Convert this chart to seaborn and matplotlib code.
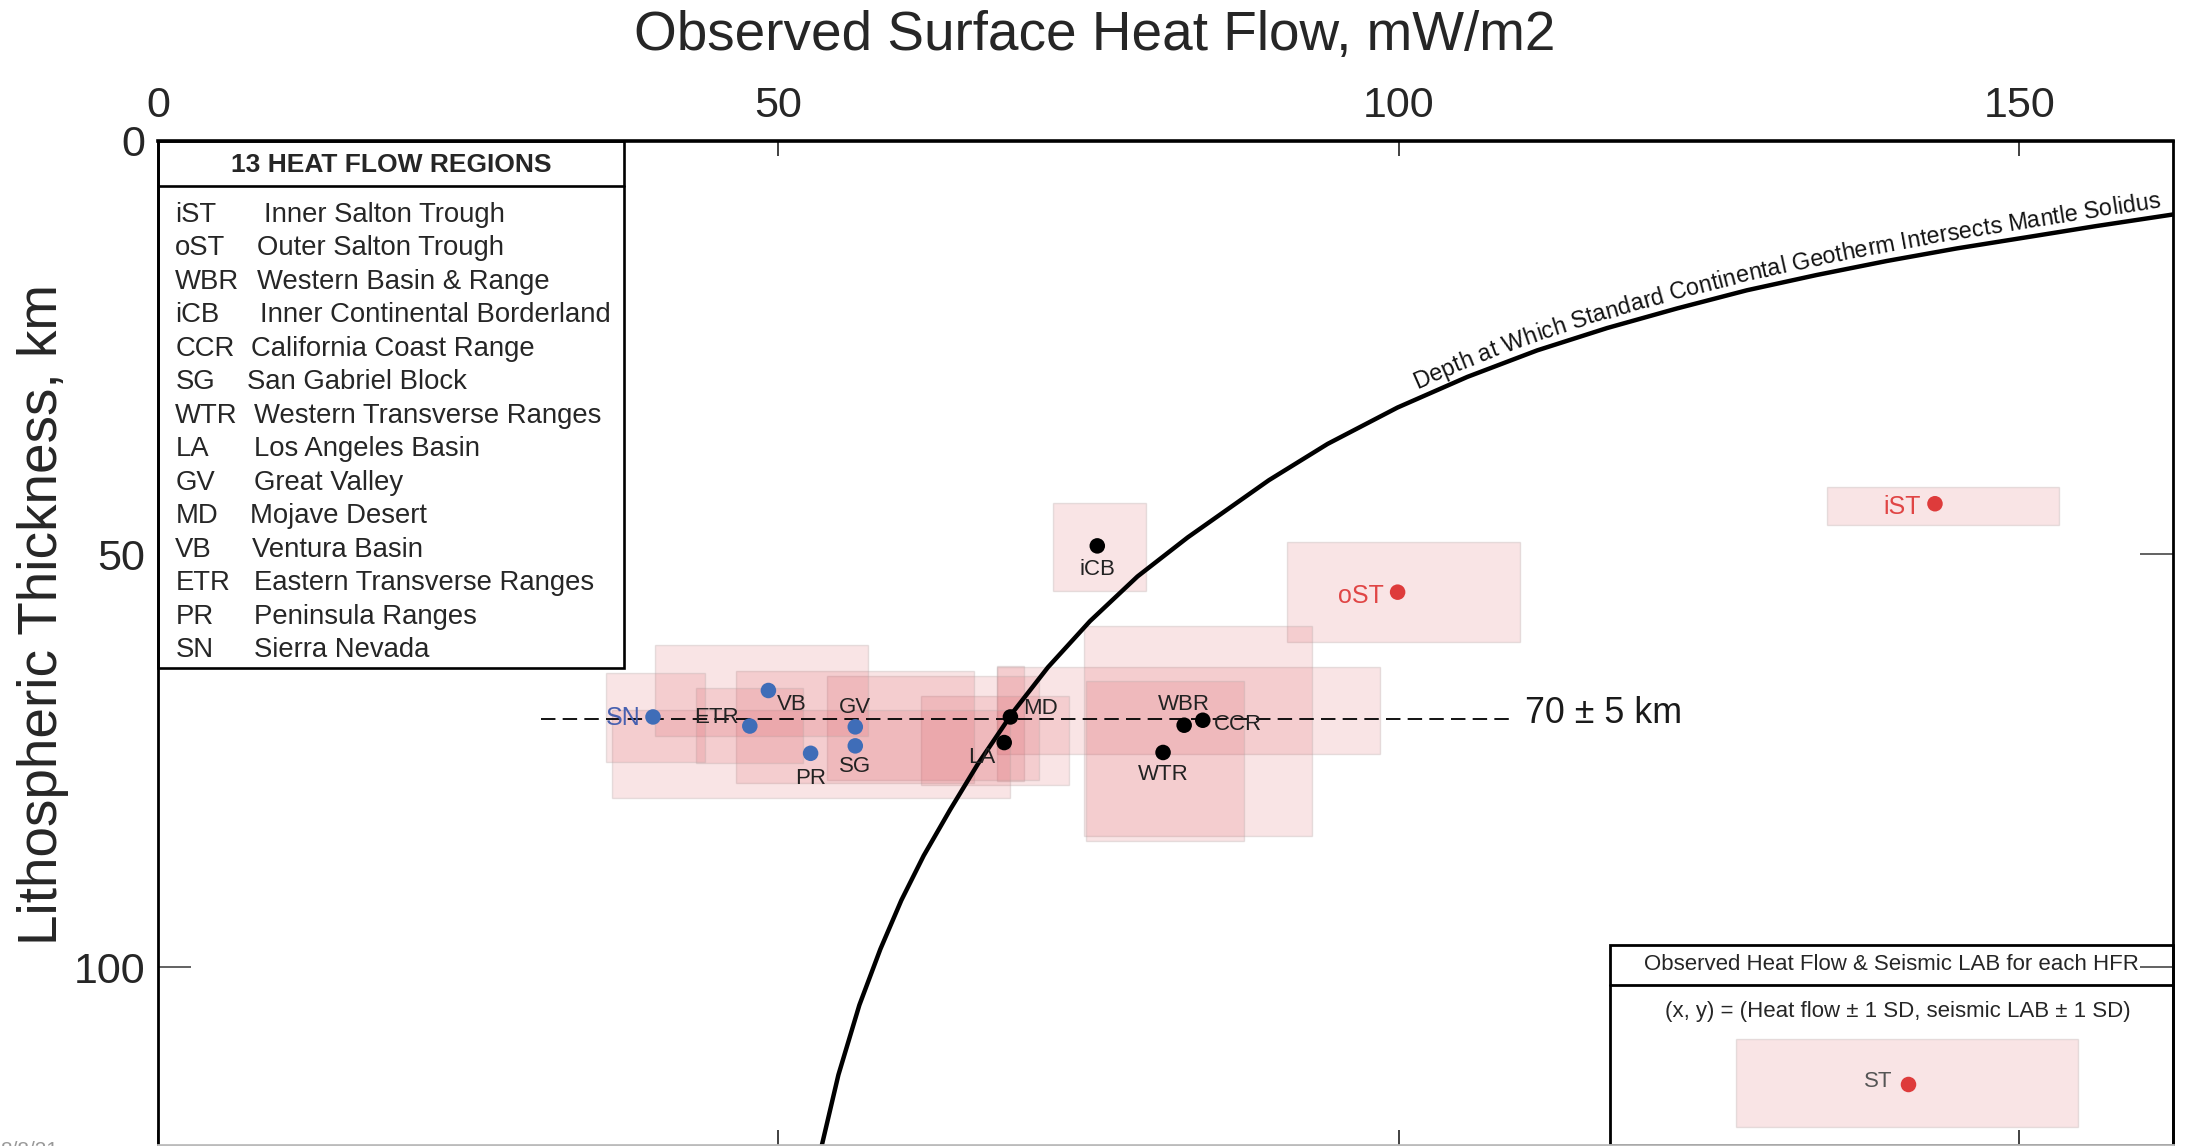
import numpy as np
import pandas as pd
import matplotlib
matplotlib.use("Agg")
import matplotlib.pyplot as plt
import seaborn as sns
from matplotlib.patches import Rectangle
from matplotlib import font_manager as fm

# ---------------- data ----------------
# Heat-flow regions: mean surface heat flow (mW/m2) and seismic LAB depth (km)
regions   = ["iST", "oST", "iCB", "WBR", "CCR", "WTR", "MD", "LA", "SG", "GV", "PR", "VB", "ETR", "SN"]
heat_flow = [143.2, 99.9, 75.7, 82.7, 84.2, 81.0, 68.7, 68.2, 56.2, 56.2, 52.6, 49.2, 47.7, 39.9]
lab_depth = [43.9, 54.6, 49.0, 70.7, 70.1, 74.0, 69.7, 72.8, 73.2, 70.9, 74.1, 66.5, 70.8, 69.7]
province  = ["trough", "trough", "central", "central", "central", "central", "central", "central",
             "western", "western", "western", "western", "western", "western"]

# +/- 1 SD ranges of heat flow and LAB depth for each region
hf_low   = [134.5, 91.0, 72.1, 67.6, 74.6, 74.8, 67.6, 61.5, 53.9, 46.6, 36.6, 40.1, 43.4, 36.1]
hf_high  = [153.2, 109.8, 79.6, 98.5, 93.0, 87.5, 69.8, 73.4, 71.0, 65.8, 68.7, 57.2, 52.0, 44.1]
lab_low  = [41.9, 48.5, 43.8, 63.6, 58.7, 65.4, 63.5, 67.2, 64.8, 64.2, 68.8, 61.0, 66.2, 64.4]
lab_high = [46.5, 60.6, 54.4, 74.2, 84.1, 84.7, 77.5, 77.9, 77.3, 77.7, 79.5, 72.0, 75.3, 75.1]

# Region key
key_abbrev = ["iST", "oST", "WBR", "iCB", "CCR", "SG", "WTR", "LA", "GV", "MD", "VB", "ETR", "PR", "SN"]
key_names  = ["Inner Salton Trough", "Outer Salton Trough", "Western Basin & Range",
              "Inner Continental Borderland", "California Coast Range", "San Gabriel Block",
              "Western Transverse Ranges", "Los Angeles Basin", "Great Valley", "Mojave Desert",
              "Ventura Basin", "Eastern Transverse Ranges", "Peninsula Ranges", "Sierra Nevada"]

# Depth at which the standard continental geotherm meets the mantle solidus
solidus_hf    = [53.49, 54.84, 56.53, 58.22, 59.91, 61.71, 63.85, 66.10, 68.92, 71.73, 75.11, 78.94,
                 82.99, 89.53, 94.26, 99.89, 105.52, 111.15, 116.78, 122.41, 128.04, 133.67, 139.30,
                 144.93, 150.56, 156.19, 162.50]
solidus_depth = [121.62, 113.01, 104.56, 97.80, 91.89, 86.49, 80.91, 75.34, 69.09, 63.68, 58.11, 52.70,
                 47.97, 41.05, 36.66, 32.26, 28.55, 25.34, 22.64, 20.27, 18.07, 16.22, 14.53, 13.01,
                 11.66, 10.30, 8.87]

# Typical LAB depth and its spread
lab_ref, lab_ref_sd = 70, 5
lab_ref_hf = [30.9, 109.4]

x_ticks = [0, 50, 100, 150]
y_ticks = [0, 50, 100]

# ---------------- style ----------------
sns.set_style("white")


def has_font(name):
    try:
        fm.findfont(fm.FontProperties(family=name), fallback_to_default=False)
        return True
    except Exception:
        return False


NARROW = ["Liberation Sans Narrow", "DejaVu Sans"] if has_font("Liberation Sans Narrow") \
    else ["Liberation Sans", "DejaVu Sans"]
NSCALE = 1.0 if NARROW[0] == "Liberation Sans Narrow" else 0.86
ARIAL = ["Liberation Sans", "DejaVu Sans"]
plt.rcParams["font.family"] = ARIAL

fig = plt.figure(figsize=(21.9, 11.46), dpi=100)
ax = fig.add_axes([0.07207, 0.0005, 0.92028, 0.8765])
ax.set_xlim(0, 162.4)
ax.set_ylim(121.55, 0)

df = pd.DataFrame({"region": regions, "heat_flow": heat_flow, "lab": lab_depth,
                   "province": province, "hf_low": hf_low, "hf_high": hf_high,
                   "lab_low": lab_low, "lab_high": lab_high})

box_face = (215 / 255, 70 / 255, 80 / 255, 0.145)
box_edge = (0.70, 0.66, 0.66, 0.30)
for r in df.itertuples():
    ax.add_patch(Rectangle((r.hf_low, r.lab_low), r.hf_high - r.hf_low, r.lab_high - r.lab_low,
                           facecolor=box_face, edgecolor=box_edge, lw=1.0, zorder=1))

# Reference LAB depth
ax.plot(lab_ref_hf, [lab_ref, lab_ref], color="black", lw=1.3, ls=(0, (8, 4)), zorder=2)
ax.annotate(f"{lab_ref} \u00b1 {lab_ref_sd} km", (lab_ref_hf[1], lab_ref), xytext=(7, 4),
            textcoords="offset points", ha="left", va="center",
            fontsize=30 * NSCALE, family=NARROW, color="#1a1a1a")

# Solidus curve
sns.lineplot(x=solidus_hf, y=solidus_depth, sort=False, color="black", lw=3.2, ax=ax, zorder=3)

# Region means
palette = {"trough": "#DE3B3B", "central": "#000000", "western": "#3F6DB8"}
sns.scatterplot(data=df, x="heat_flow", y="lab", hue="province", palette=palette, s=125,
                linewidth=0, legend=False, ax=ax, zorder=5)

label_style = {
    "iST": (-10, -2, "right", "#E04545", 18), "oST": (-10, -3, "right", "#E04545", 18),
    "iCB": (0, -17, "center", "#222222", 16), "WBR": (0, 15, "center", "#222222", 16),
    "CCR": (8, -3, "left", "#222222", 16), "WTR": (0, -16, "center", "#222222", 16),
    "MD": (9, 6, "left", "#222222", 16), "LA": (-6, -11, "right", "#222222", 16),
    "SG": (0, -15, "center", "#222222", 16), "GV": (0, 14, "center", "#222222", 16),
    "PR": (0, -18, "center", "#222222", 16), "VB": (6, -10, "left", "#222222", 16),
    "ETR": (-8, 6, "right", "#222222", 16), "SN": (-9, -1, "right", "#4760B0", 18),
}
for r in df.itertuples():
    dx, dy, ha, col, fs = label_style[r.region]
    ax.annotate(r.region, (r.heat_flow, r.lab), xytext=(dx, dy), textcoords="offset points",
                ha=ha, va="center", fontsize=fs, color=col, zorder=6)

# ---------------- axes ----------------
ax.set_xticks(x_ticks)
ax.set_yticks(y_ticks)
ax.set_xlabel("")
ax.set_ylabel("")
ax.xaxis.set_ticks_position("both")
ax.yaxis.set_ticks_position("both")
ax.tick_params(axis="x", which="both", direction="in", length=11, width=1.3, color="#333333",
               labeltop=True, labelbottom=False, pad=11, labelsize=36 * NSCALE)
ax.tick_params(axis="y", which="both", direction="in", length=24, width=1.3, color="#555555",
               labelleft=True, labelright=False, pad=9, labelsize=36 * NSCALE)
for lab in ax.get_xticklabels() + ax.get_yticklabels():
    lab.set_family(NARROW)
# the left tick at 50 km sits under the region key
ax.yaxis.get_major_ticks()[1].tick1line.set_visible(False)
ax.xaxis.set_zorder(12)
ax.yaxis.set_zorder(12)
for name, sp in ax.spines.items():
    sp.set_visible(True)
    sp.set_color("black")
    sp.set_linewidth(2.0)
    sp.set_zorder(13)
ax.spines["top"].set_linewidth(2.6)
ax.spines["bottom"].set_color("#bbbbbb")

fig.text(0.5, 0.969, "Observed Surface Heat Flow, mW/m2", ha="center", va="center",
         fontsize=46 * NSCALE, family=NARROW)
fig.text(0.0195, 0.464, "Lithospheric Thickness, km", ha="center", va="center", rotation=90,
         fontsize=46 * NSCALE, family=NARROW)
fig.text(0.0, -0.004, "8/8/21", ha="left", va="center", fontsize=15, color="#999999")

# ---------------- region key (top left) ----------------
ta = ax.transAxes
key_w, key_bottom, key_head = 0.2315, 0.475, 0.9556
ax.add_patch(Rectangle((0, key_bottom), key_w, 1 - key_bottom, transform=ta, facecolor="white",
                       edgecolor="black", lw=1.9, zorder=8, clip_on=False))
ax.plot([0, key_w], [key_head, key_head], transform=ta, color="black", lw=1.9, zorder=9)
ax.text(key_w / 2, 0.9764, "13 HEAT FLOW REGIONS", transform=ta, ha="center", va="center",
        fontsize=19, fontweight="bold", zorder=9)
name_x = [188.7, 183.9, 183.9, 186.3, 179.8, 176.7, 182.2, 182.2, 182.2, 179.1, 180.3, 182.2, 181.5, 181.5]
for k, (ab, nm) in enumerate(zip(key_abbrev, key_names)):
    yk = 1 - (53 + 24 * k) / 720
    ax.text(0.0087, yk, ab, transform=ta, ha="left", va="center", fontsize=19.8, zorder=9)
    ax.text((name_x[k] - 113) / 1443, yk, nm, transform=ta, ha="left", va="center",
            fontsize=19.8, zorder=9)

# ---------------- symbol key (bottom right) ----------------
bx0, bhead_top, bhead_bot = 0.7207, 0.2, 0.1597
ax.add_patch(Rectangle((bx0, 0), 1 - bx0, bhead_top, transform=ta, facecolor="white",
                       edgecolor="black", lw=2.0, zorder=8, clip_on=False))
ax.plot([bx0, 1], [bhead_bot, bhead_bot], transform=ta, color="black", lw=2.0, zorder=9)
ax.text(0.8604, 0.1806, "Observed Heat Flow & Seismic LAB for each HFR", transform=ta,
        ha="center", va="center", fontsize=16, zorder=9)
ax.text(0.8635, 0.1333, "(x, y) = (Heat flow \u00b1 1 SD, seismic LAB \u00b1 1 SD)", transform=ta,
        ha="center", va="center", fontsize=16, zorder=9)
ax.add_patch(Rectangle((0.7831, 0.0181), 0.9529 - 0.7831, 0.1056 - 0.0181, transform=ta,
                       facecolor=box_face, edgecolor=box_edge, lw=1.0, zorder=9))
ax.text(0.8538, 0.0639, "ST", transform=ta, ha="center", va="center", fontsize=16,
        color="#555555", zorder=10)
ax.scatter([0.8683], [0.0611], transform=ta, s=125, color=palette["trough"], linewidth=0, zorder=10)


# ---------------- curve label following the solidus line ----------------
def label_along_curve(text, x_start, gap_px, size, family):
    fig.canvas.draw()
    rend = fig.canvas.get_renderer()
    fp = fm.FontProperties(family=family, size=size)
    pts = ax.transData.transform(np.column_stack([solidus_hf, solidus_depth]))
    seg = np.diff(pts, axis=0)
    seglen = np.hypot(seg[:, 0], seg[:, 1])
    s = np.concatenate([[0.0], np.cumsum(seglen)])

    def point_at(sv):
        sv = float(np.clip(sv, 0, s[-1]))
        i = int(np.clip(np.searchsorted(s, sv) - 1, 0, len(seglen) - 1))
        t = (sv - s[i]) / seglen[i]
        return pts[i] + t * seg[i]

    def width(t):
        return rend.get_text_width_height_descent(t, fp, ismath=False)[0]

    ref = width("|")
    adv = [width(text[:i] + "|") - ref for i in range(len(text) + 1)]
    x0_disp = ax.transData.transform((x_start, 0))[0]
    s0 = np.interp(x0_disp, pts[:, 0], s)
    inv = ax.transData.inverted()
    for i, ch in enumerate(text):
        if ch == " ":
            continue
        sc = s0 + 0.5 * (adv[i] + adv[i + 1])
        p = point_at(sc)
        d = point_at(sc + 14) - point_at(sc - 14)
        ang = np.arctan2(d[1], d[0])
        nrm = np.array([-np.sin(ang), np.cos(ang)])
        pos = inv.transform(p + nrm * gap_px)
        ax.text(pos[0], pos[1], ch, fontproperties=fp, ha="center", va="baseline",
                rotation=np.degrees(ang), rotation_mode="anchor", zorder=7, color="#111111")


label_along_curve("Depth at Which Standard Continental Geotherm Intersects Mantle Solidus",
                  101.8, 9, 16.8, ARIAL)

fig.savefig("out.png", dpi=100)
